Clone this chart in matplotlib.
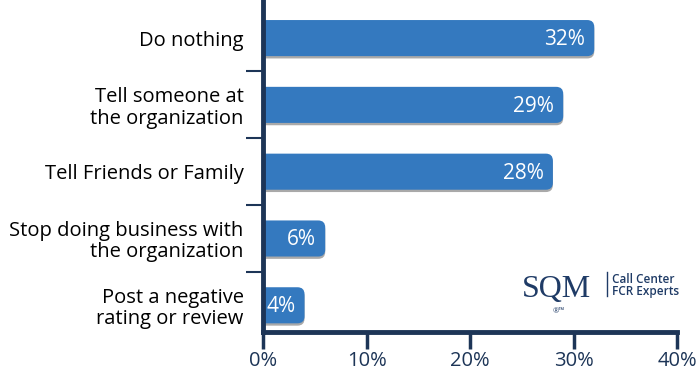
import matplotlib.pyplot as plt
from matplotlib.patches import FancyBboxPatch

categories = ["Do nothing", "Tell someone at\nthe organization", "Tell Friends or Family",
              "Stop doing business with\nthe organization", "Post a negative\nrating or review"]
values = [32, 29, 28, 6, 4]
xticks = [0, 10, 20, 30, 40]

BLUE = "#3479bf"
NAVY = "#1d3557"
LOGO = "#1f3b66"

plt.rcParams['font.family'] = ['Open Sans', 'DejaVu Sans']

fig = plt.figure(figsize=(6.98, 3.79), dpi=100)
ax = fig.add_axes([0.377, 0.124, 0.593, 0.876])

h = 0.54
xr, yr = 0.68, 0.105
for i, v in enumerate(values):
    # shadow under each bar
    sh = FancyBboxPatch((-2, i - h / 2 + 0.035), v + 2, h,
                        boxstyle=f"round,pad=0,rounding_size={xr}",
                        mutation_aspect=yr / xr, fc="#a9a9a9", ec="none", zorder=1)
    ax.add_patch(sh)
    p = FancyBboxPatch((-2, i - h / 2), v + 2, h,
                       boxstyle=f"round,pad=0,rounding_size={xr}",
                       mutation_aspect=yr / xr, fc=BLUE, ec="none", zorder=2)
    ax.add_patch(p)
    ax.text(v - 0.9, i + 0.02, f"{v}%", color="white", fontsize=15,
            ha="right", va="center", zorder=3)

ax.set_xlim(0, 40)
ax.set_ylim(4.40, -0.57)

ax.set_xticks(xticks)
ax.set_xticklabels([f"{t}%" for t in xticks], fontsize=14.5, color=NAVY)
ax.set_yticks(range(len(categories)))
ax.set_yticklabels(categories, fontsize=14.5, color="black", linespacing=1.1)
ax.set_yticks([0.5, 1.5, 2.5, 3.5], minor=True)
ax.tick_params(axis="y", which="major", length=0, pad=14)
ax.tick_params(axis="y", which="minor", length=12, width=1.5, color=NAVY, direction="out")
ax.tick_params(axis="x", length=12, width=2.5, color=NAVY, pad=2)

for s in ["top", "right"]:
    ax.spines[s].set_visible(False)
for s in ["left", "bottom"]:
    ax.spines[s].set_linewidth(3.5)
    ax.spines[s].set_color(NAVY)
    ax.spines[s].set_zorder(5)

# logo
fig.text(0.748, 0.235, "SQM", fontsize=23, color=LOGO, family="Liberation Serif",
         ha="left", va="center")
fig.add_artist(plt.Line2D([0.869, 0.869], [0.22, 0.283], color=LOGO, lw=1))
fig.text(0.877, 0.247, "Call Center\nFCR Experts", fontsize=8.5, color=LOGO,
         ha="left", va="center", linespacing=0.9, fontweight="semibold")
fig.text(0.800, 0.178, "®™", fontsize=5.5, color=LOGO, ha="center", va="center")

plt.savefig("out.png", dpi=100)
